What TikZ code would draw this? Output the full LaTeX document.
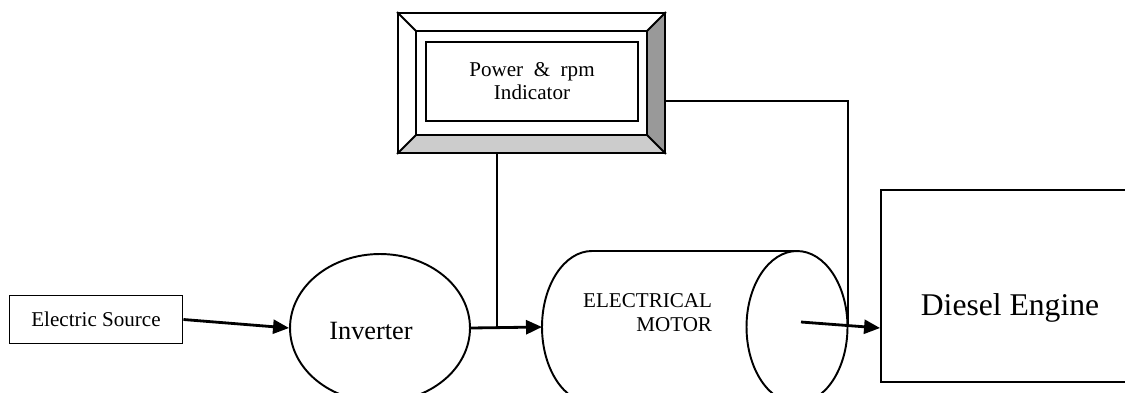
\documentclass[tikz,border=0pt]{standalone}
\usepackage{fontspec}
\setmainfont{Liberation Serif}
\usetikzlibrary{arrows.meta,shapes.geometric}

\begin{document}
\begin{tikzpicture}[x=0.02cm,y=-0.02cm,line width=1.1pt,
  arr/.style={-{Triangle[length=0.32cm,width=0.28cm]},line width=1.6pt},
  box/.style={draw,rectangle,inner sep=0pt}]
\clip (0,0) rectangle (1125,392);
% indicator frame
\fill[black!40] (665,13) -- (665,153) -- (647,135) -- (647,31) -- cycle;
\fill[black!20] (398,153) -- (665,153) -- (647,135) -- (416,135) -- cycle;
\node[box,minimum width=5.34cm,minimum height=2.8cm] (ind) at (531.5,83) {};
\draw (416,31) rectangle (647,135);
\draw (ind.north west) -- (416,31) (ind.north east) -- (647,31)
      (ind.south west) -- (416,135) (ind.south east) -- (647,135);
\node[box,minimum width=4.24cm,minimum height=1.58cm,align=center,font=\fontsize{12}{13}\selectfont] (indtext) at (532,81.5) {Power~~\&~~rpm\\Indicator};
% source and inverter
\node[box,minimum width=3.46cm,minimum height=0.96cm,font=\fontsize{12}{13}\selectfont] (src) at (96,319.5) {Electric Source};
\node[draw,ellipse,minimum width=3.6cm,minimum height=2.96cm,inner sep=0pt] (inv) at (380,328) {};
\node[font=\fontsize{15}{17}\selectfont] at (371,331) {Inverter};
% motor
\draw (797,251) -- (592,251) arc[start angle=90,end angle=270,x radius=1cm,y radius=1.52cm] -- (797,403);
\draw (797,327) ellipse[x radius=1.01cm,y radius=1.52cm];
\coordinate (motorW) at (542,327);
\coordinate (motorE) at (848,327);
\coordinate (motorC) at (801,322);
\node[align=right,anchor=east,inner sep=0pt,font=\fontsize{12}{13.6}\selectfont] (mtext) at (713,313) {ELECTRICAL\\MOTOR};
% engine
\node[box,minimum width=5.2cm,minimum height=3.84cm] (diesel) at (1011,286) {};
\node[font=\fontsize{18}{20}\selectfont] at (1010,308) {Diesel Engine};
% connections
\coordinate (jn) at (497,328);
\draw[arr] (src.east) -- (inv.west);
\draw[arr] (inv.east) -- (motorW);
\draw (jn) -- (jn |- ind.south);
\draw ([yshift=-0.36cm]ind.east) -| (motorE);
\draw[arr] (motorC) -- ([yshift=-0.12cm]motorC -| diesel.west);
\end{tikzpicture}
\end{document}
